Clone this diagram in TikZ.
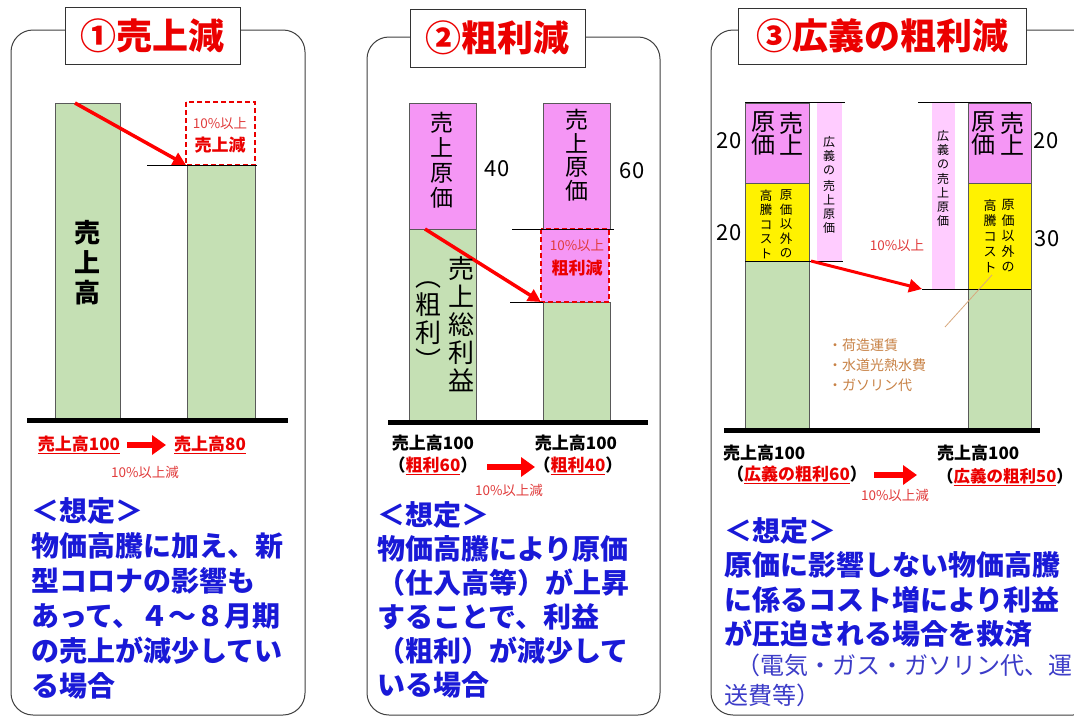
\documentclass[tikz,border=0pt]{standalone}
\usepackage{fontspec}
\setmainfont{Noto Sans CJK JP}
\usetikzlibrary{arrows.meta}
\definecolor{bgreen}{RGB}{197,224,180}
\definecolor{bpink}{RGB}{245,150,245}
\definecolor{lpink}{RGB}{255,204,255}
\definecolor{tred}{RGB}{235,0,0}
\definecolor{sred}{RGB}{225,60,60}
\definecolor{tblue}{RGB}{25,25,215}
\definecolor{lblue}{RGB}{60,60,200}
\definecolor{brn}{RGB}{200,130,70}
\begin{document}
\begin{tikzpicture}[x=1pt,y=-1pt,
  panel/.style={draw=black!75, line width=1pt, rounded corners=22pt},
  titlebox/.style={draw=black!80, fill=white, line width=1pt, text=tred, font=\fontsize{36}{40}\selectfont\bfseries, inner sep=0pt},
  barline/.style={draw=black!65, line width=0.7pt},
  redarrow/.style={draw=red, line width=3.5pt, -{Triangle[length=13pt,width=13pt]}},
  fatarrow/.style={draw=red, line width=6pt, -{Triangle[length=14pt,width=19pt]}},
  baseline/.style={line width=5pt},
  thinline/.style={line width=0.8pt},
  dashbox/.style={draw=tred, dashed, dash pattern=on 5pt off 3pt, line width=2pt},
  vtext/.style={align=center, inner sep=0pt, font=\fontsize{26}{30}\selectfont\bfseries},
  small/.style={text=sred, inner sep=0pt, font=\fontsize{13.5}{15}\selectfont},
  bold17/.style={inner sep=0pt, font=\fontsize{17}{20}\selectfont\bfseries},
  num/.style={inner sep=0pt, font=\fontsize{22}{24}\selectfont},
  blueblock/.style={text=tblue, align=left, inner sep=0pt, anchor=north west, font=\fontsize{28}{35}\selectfont\bfseries},
]
\useasboundingbox (0,0) rectangle (1074,718);
\clip (0,0) rectangle (1074,718);
\fill[white] (0,0) rectangle (1074,718);

% ---------------- Panel 1 ----------------
\draw[panel] (11,30) rectangle (305,715);
\node[titlebox, minimum width=175pt, minimum height=57pt] (t1) at (152.5,35.5) {①売上減};
\filldraw[barline, fill=bgreen] (55,103) rectangle (120,418);
\filldraw[barline, fill=bgreen] (187,165) rectangle (255,418);
\draw[dashbox] (186,102) rectangle (255,165);
\draw[thinline] (147,165) -- (257,165);
\coordinate (a1s) at (75,103);
\coordinate (a1e) at (186,165);
\draw[redarrow] (a1s) -- (a1e);
\draw[baseline] (27,420) -- (288,420);
\node[vtext] (v1) at (87,263) {売\\上\\高};
\node[small] (p1a) at (220,123) {10\%以上};
\node[bold17, text=tred] (p1b) at (220,145) {売上減};
\node[bold17, text=tred] (p1c) at (79,445) {\underline{売上高100}};
\node[bold17, text=tred] (p1d) at (210,445) {\underline{売上高80}};
\draw[fatarrow] (p1c.east) ++(7,0) coordinate (f1s) -- (166,445) coordinate (f1e);
\node[small] (p1e) at (145,472) {10\%以上減};
\node[blueblock] (b1) at (31,497) {＜想定＞\\物価高騰に加え、新\\型コロナの影響も\\あって、４～８月期\\の売上が減少してい\\る場合};

% ---------------- Panel 2 ----------------
\draw[panel] (367,37) rectangle (660,715);
\node[titlebox, minimum width=175pt, minimum height=58pt] (t2) at (497.5,38) {②粗利減};
\filldraw[barline, fill=bpink] (409,103) rectangle (476,229);
\filldraw[barline, fill=bgreen] (409,229) rectangle (476,422);
\filldraw[barline, fill=bpink] (543,103) rectangle (610,229);
\filldraw[barline, fill=bgreen] (543,302) rectangle (610,422);
\filldraw[dashbox, fill=bpink] (541,229) rectangle (609,302);
\draw[thinline] (512,229) -- (614,229);
\draw[thinline] (510,302) -- (543,302);
\coordinate (a2s) at (425,229);
\coordinate (a2e) at (541,302);
\draw[redarrow] (a2s) -- (a2e);
\draw[baseline] (388,422) -- (648,422);
\node[vtext, font=\fontsize{23}{25}\selectfont] (v2a) at (442,160) {売\\上\\原\\価};
\node[vtext, font=\fontsize{23}{23.5}\selectfont] (v2b) at (577,155) {売\\上\\原\\価};
\node[vtext, font=\fontsize{26}{28}\selectfont] (v2c) at (461,324) {売\\上\\総\\利\\益};
\node[vtext, font=\fontsize{26}{28}\selectfont] (v2d) at (428,326) {︵\\粗\\利\\︶};
\node[num] (n40) at (497,169) {40};
\node[num] (n60) at (632,171) {60};
\node[small] (p2a) at (577,245) {10\%以上};
\node[bold17, text=tred] (p2b) at (577,268) {粗利減};
\node[bold17] (p2c) at (433,443) {売上高100};
\node[bold17] (p2d) at (433,466) {（\textcolor{tred}{\underline{粗利60}}）};
\node[bold17] (p2e) at (576,443) {売上高100};
\node[bold17] (p2f) at (578,466) {（\textcolor{tred}{\underline{粗利40}}）};
\draw[fatarrow] (487,467) coordinate (f2s) -- (535,467) coordinate (f2e);
\node[small] (p2g) at (509,490) {10\%以上減};
\node[blueblock, font=\fontsize{28}{34}\selectfont\bfseries] (b2) at (377,501) {＜想定＞\\物価高騰により原価\\（仕入高等）が上昇\\することで、利益\\（粗利）が減少して\\いる場合};

% ---------------- Panel 3 ----------------
\draw[panel] (711,30) rectangle (1095,715);
\node[titlebox, minimum width=288pt, minimum height=56pt] (t3) at (882,36) {③広義の粗利減};
\filldraw[barline, fill=bpink] (745,103) rectangle (809,183);
\filldraw[barline, fill=yellow] (745,183) rectangle (809,261);
\filldraw[barline, fill=bgreen] (745,261) rectangle (809,428);
\fill[lpink] (817,103) rectangle (842,261);
\draw[thinline] (745,102) -- (845,102);
\draw[thinline] (745,261) -- (843,261);
\filldraw[barline, fill=bpink] (968,103) rectangle (1031,183);
\filldraw[barline, fill=yellow] (968,183) rectangle (1031,289);
\filldraw[barline, fill=bgreen] (968,289) rectangle (1031,428);
\fill[lpink] (932,103) rectangle (955,289);
\draw[thinline] (918,102) -- (1031,102);
\draw[thinline] (922,289) -- (1031,289);
\coordinate (a3s) at (811,261);
\coordinate (a3e) at (922,289);
\draw[redarrow, line width=3pt] (a3s) -- (a3e);
\coordinate (o3s) at (945,327);
\coordinate (o3e) at (992,275);
\draw[brn!70, line width=0.8pt] (o3s) -- (o3e);
\draw[baseline] (724,430) -- (1040,430);
% text in bars
\node[vtext, font=\fontsize{24}{22}\selectfont] (v3a) at (763,134) {原\\価};
\node[vtext, font=\fontsize{24}{22}\selectfont] (v3b) at (791,134) {売\\上};
\node[vtext, font=\fontsize{24}{22}\selectfont] (v3c) at (983,134) {原\\価};
\node[vtext, font=\fontsize{24}{22}\selectfont] (v3d) at (1012,134) {売\\上};
\node[vtext, font=\fontsize{12.5}{14.5}\selectfont] (v3e) at (766,224) {高\\騰\\コ\\ス\\ト};
\node[vtext, font=\fontsize{12.5}{14.5}\selectfont] (v3f) at (786,224) {原\\価\\以\\外\\の};
\node[vtext, font=\fontsize{13}{15.5}\selectfont] (v3g) at (990,236) {高\\騰\\コ\\ス\\ト};
\node[vtext, font=\fontsize{13}{15.5}\selectfont] (v3h) at (1008,236) {原\\価\\以\\外\\の};
\node[vtext, font=\fontsize{12}{14}\selectfont\mdseries] (v3i) at (829,185) {広\\義\\の\\[2pt]売\\上\\原\\価};
\node[vtext, font=\fontsize{12}{14}\selectfont\mdseries] (v3j) at (943,178) {広\\義\\の\\[1pt]売\\上\\原\\価};
\node[num] (n20a) at (729,141) {20};
\node[num] (n20b) at (729,233) {20};
\node[num] (n20c) at (1046,141) {20};
\node[num] (n30) at (1047,239) {30};
\node[small] (p3a) at (897,245) {10\%以上};
\node[text=brn, anchor=west, inner sep=0pt, align=left, font=\fontsize{14}{20}\selectfont] (p3b) at (828,365) {・荷造運賃\\・水道光熱水費\\・ガソリン代};
\node[bold17, anchor=west] (p3c) at (723,453) {売上高100};
\node[bold17] (p3d) at (797,475) {（\textcolor{tred}{\underline{広義の粗利60}}）};
\node[bold17, anchor=west] (p3e) at (937,453) {売上高100};
\node[bold17, font=\fontsize{16.5}{20}\selectfont\bfseries] (p3f) at (1005,477) {（\textcolor{tred}{\underline{広義の粗利50}}）};
\draw[fatarrow] (874,475) coordinate (f3s) -- (917,475) coordinate (f3e);
\node[small] (p3g) at (895,495) {10\%以上減};
\node[blueblock, font=\fontsize{28}{34.5}\selectfont\bfseries] (b3) at (724,517) {＜想定＞\\原価に影響しない物価高騰\\に係るコスト増により利益\\が圧迫される場合を救済};
\node[text=lblue, align=left, inner sep=0pt, anchor=north west, font=\fontsize{24}{30}\selectfont] (b3b) at (724,654) {\hspace*{0.5em}（電気・ガス・ガソリン代、運\\送費等）};
\end{tikzpicture}
\end{document}
